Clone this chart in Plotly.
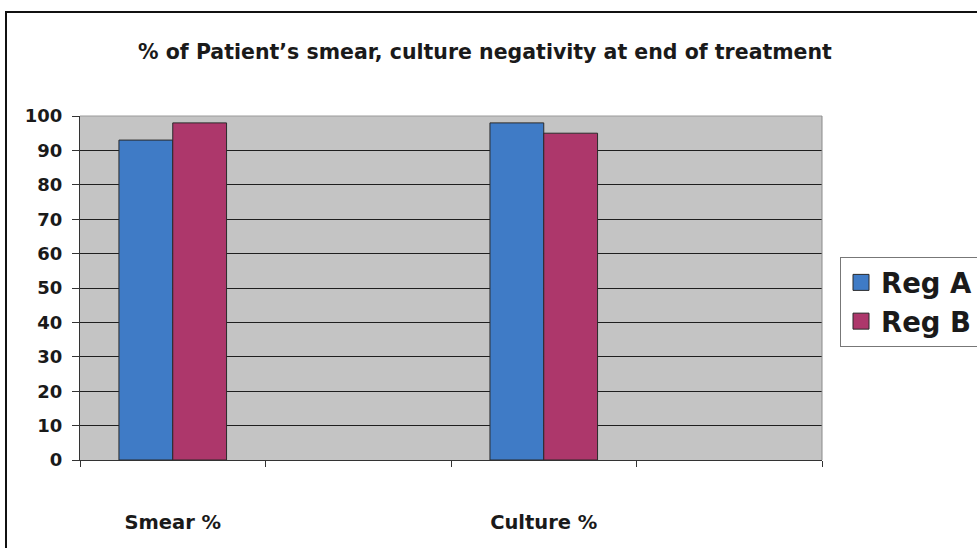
import plotly.graph_objects as go

# Categories along the x axis (two spacer slots keep the Excel-style layout)
categories = ["Smear %", " ", "Culture %", "  "]
series_names = ["Reg A", "Reg B"]
reg_a = [93, None, 98, None]
reg_b = [98, None, 95, None]
y_ticks = list(range(0, 101, 10))

colors = ["#3f7bc6", "#ad376b"]
FONT = "DejaVu Sans, Verdana, sans-serif"

fig = go.Figure()
for name, vals, col in zip(series_names, [reg_a, reg_b], colors):
    fig.add_trace(go.Bar(
        x=categories, y=vals, name=name, showlegend=False,
        marker=dict(color=col, line=dict(color="#2a2a2a", width=1)),
    ))
    # legend entry with a larger square swatch
    fig.add_trace(go.Scatter(
        x=[None], y=[None], mode="markers", name=name,
        marker=dict(symbol="square", size=16, color=col,
                    line=dict(color="#2a2a2a", width=1)),
    ))

W, H = 977, 548
L, R, T, B = 80, 155, 116, 88
pw, ph = W - L - R, H - T - B


def px_x(px):
    return (px - L) / pw


def px_y(py):
    return (H - B - py) / ph


fig.update_layout(
    width=W, height=H,
    margin=dict(l=L, r=R, t=T, b=B, autoexpand=False),
    paper_bgcolor="white",
    plot_bgcolor="#c4c4c4",
    barmode="group", bargap=0.42, bargroupgap=0,
    font=dict(family=FONT, color="#1a1a1a"),
    title=dict(
        text="<b>% of Patient’s smear, culture negativity at end of treatment</b>",
        x=485 / W, xanchor="center", y=1 - 52 / H, yanchor="middle",
        font=dict(size=20.5, family=FONT, color="#1a1a1a"),
    ),
    legend=dict(
        x=px_x(840), y=px_y(257), xanchor="left", yanchor="top",
        bgcolor="white", bordercolor="#777777", borderwidth=1,
        font=dict(size=27.5, family=FONT, color="#1a1a1a", weight="bold"),
        itemsizing="trace",
    ),
    xaxis=dict(
        type="category", categoryorder="array", categoryarray=categories,
        showgrid=False, showline=True, linecolor="#333333", linewidth=1,
        ticks="outside", tickson="boundaries", ticklen=6, tickcolor="#333333",
        tickfont=dict(size=19.5, family=FONT, color="#1a1a1a", weight="bold"),
        ticklabelstandoff=45,
    ),
    yaxis=dict(
        range=[0, 100], tickvals=y_ticks,
        showgrid=True, gridcolor="#1e1e1e", gridwidth=1,
        showline=True, linecolor="#333333", linewidth=1,
        ticks="outside", ticklen=7, tickcolor="#333333",
        tickfont=dict(size=18, family=FONT, color="#1a1a1a", weight="bold"),
        ticklabelstandoff=6, zeroline=False,
    ),
    shapes=[
        # top and right edges of the plotting area in light gray
        dict(type="line", xref="paper", yref="paper", x0=0, x1=1, y0=1, y1=1,
             line=dict(color="#9a9a9a", width=1), layer="above"),
        dict(type="line", xref="paper", yref="paper", x0=1, x1=1, y0=0, y1=1,
             line=dict(color="#8a8a8a", width=1)),
        # outer frame around the whole chart
        dict(type="rect", xref="paper", yref="paper",
             x0=px_x(6), x1=px_x(990), y0=px_y(560), y1=px_y(12),
             line=dict(color="#111111", width=2), layer="above"),
    ],
)

fig.write_html("out.html")
